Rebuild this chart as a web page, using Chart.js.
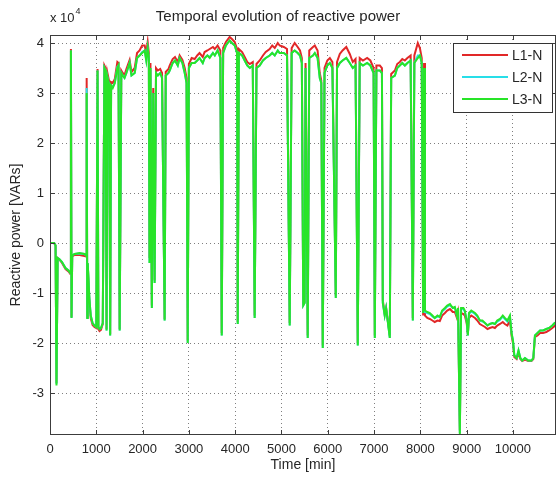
<!DOCTYPE html>
<html><head><meta charset="utf-8">
<script src="https://cdn.jsdelivr.net/npm/chart.js@4.4.1/dist/chart.umd.min.js"></script>
<style>html,body{margin:0;padding:0;background:#fff;overflow:hidden}</style>
</head><body>
<canvas id="c" width="558" height="478"></canvas>
<script>
// ---- data (reactive power in units of 1e4 VAR) ----
const timeMin = [
  0,90,120,140,165,200,260,335,400,440,452,465,480,530,640,746,780,792,805,815,
  850,880,920,960,1000,1027,1045,1070,1100,1140,1175,1200,1222,1245,1280,1300,1320,1355,1400,1455,
  1480,1505,1540,1570,1610,1650,1720,1760,1830,1880,1935,1990,2045,2080,2110,2135,2150,2170,2200,2230,
  2260,2290,2330,2380,2420,2476,2500,2560,2585,2650,2700,2760,2800,2860,2910,2950,2975,3000,3060,3125,
  3180,3230,3300,3340,3400,3450,3520,3560,3620,3680,3710,3740,3800,3880,3930,3990,4040,4055,4080,4150,
  4205,4260,4315,4380,4421,4460,4530,4600,4660,4745,4800,4855,4920,4960,5050,5120,5178,5220,5285,5350,
  5400,5440,5470,5500,5520,5567,5600,5680,5720,5780,5827,5860,5892,5930,5990,6045,6100,6173,6200,6260,
  6320,6400,6475,6540,6600,6648,6690,6760,6850,6920,6990,7016,7050,7125,7170,7189,7230,7260,7340,7370,
  7450,7500,7556,7610,7665,7720,7790,7837,7870,7945,7990,8030,8060,8080,8100,8150,8205,8260,8310,8370,
  8420,8470,8530,8580,8640,8700,8745,8790,8815,8853,8880,8930,8960,9000,9026,9050,9100,9180,9230,9285,
  9340,9395,9450,9500,9560,9610,9660,9720,9780,9825,9880,9935,9970,10000,10030,10080,10120,10160,10200,10260,
  10330,10400,10440,10475,10530,10585,10650,10720,10780,10850,10900,10930
];
const l1N = [
  0.00,0.00,-0.05,-2.80,-0.30,-0.33,-0.40,-0.52,-0.57,-0.62,3.88,-1.48,-0.27,-0.24,-0.24,-0.26,-0.27,3.30,-1.48,-0.42,
  -1.15,-1.50,-1.64,-1.68,-1.70,3.48,-1.72,-1.76,-1.74,-1.62,3.55,3.50,-1.72,3.38,3.22,-1.82,3.22,3.20,3.28,3.62,
  3.60,-1.72,3.45,3.40,3.36,3.48,3.66,3.42,3.50,3.80,3.85,3.95,3.95,3.80,4.02,3.80,-0.30,3.60,-1.25,3.10,
  -0.75,3.50,3.45,3.48,3.40,-1.52,3.42,3.48,3.55,3.68,3.72,3.62,3.75,3.66,3.50,3.30,-1.95,3.58,3.70,3.68,
  3.75,3.80,3.72,3.82,3.85,3.88,3.92,3.88,3.95,3.85,-1.80,3.90,4.02,4.12,4.08,4.02,3.88,-1.58,3.88,3.82,
  3.72,3.62,3.58,3.62,-1.45,3.58,3.65,3.75,3.82,3.88,3.95,3.90,4.00,3.95,3.92,3.88,-1.60,3.90,4.00,3.92,
  3.85,3.70,-1.20,-1.18,3.60,-1.85,3.85,3.92,3.95,3.85,3.40,3.25,-2.05,3.50,3.65,3.70,3.62,-1.05,3.62,3.78,
  3.85,3.92,3.78,3.62,3.68,-2.00,3.70,3.65,3.70,3.65,3.50,-1.85,3.55,3.55,3.50,-1.15,-1.42,-1.30,-1.85,3.38,
  3.45,3.58,3.62,3.68,3.65,3.70,3.75,-1.50,3.75,4.00,3.90,3.70,-1.45,3.60,-1.45,-1.50,-1.52,-1.55,-1.58,-1.55,
  -1.56,-1.45,-1.40,-1.35,-1.32,-1.38,-1.38,-1.50,-1.40,-3.75,-1.40,-1.42,-1.45,-1.60,-1.82,-1.50,-1.45,-1.50,-1.55,-1.62,
  -1.65,-1.68,-1.72,-1.70,-1.68,-1.70,-1.65,-1.62,-1.58,-1.62,-1.65,-1.55,-1.85,-2.00,-2.28,-2.32,-2.20,-2.32,-2.36,-2.33,
  -2.36,-2.36,-2.32,-1.88,-1.85,-1.80,-1.80,-1.78,-1.75,-1.70,-1.66,-1.68
];
const l2N = [
  0.00,0.00,-0.05,-2.82,-0.30,-0.32,-0.38,-0.50,-0.55,-0.60,3.85,-1.50,-0.25,-0.22,-0.21,-0.22,-0.25,3.10,-1.50,-0.40,
  -1.10,-1.45,-1.60,-1.65,-1.68,3.45,-1.68,-1.72,-1.70,-1.60,3.50,3.45,-1.75,3.30,3.15,-1.85,3.15,3.12,3.20,3.52,
  3.55,-1.75,3.40,3.35,3.30,3.40,3.60,3.35,3.40,3.70,3.75,3.82,3.85,3.65,3.90,3.70,-0.40,3.50,-1.30,3.00,
  -0.80,3.40,3.35,3.40,3.30,-1.55,3.35,3.40,3.45,3.60,3.65,3.55,3.70,3.60,3.40,3.20,-2.00,3.50,3.60,3.60,
  3.65,3.70,3.60,3.70,3.75,3.72,3.80,3.75,3.85,3.70,-1.85,3.80,3.95,4.05,4.00,3.95,3.80,-1.62,3.80,3.75,
  3.65,3.55,3.50,3.55,-1.50,3.50,3.55,3.65,3.70,3.75,3.80,3.75,3.85,3.80,3.80,3.75,-1.65,3.80,3.85,3.80,
  3.75,3.60,-1.25,-1.20,3.50,-1.90,3.70,3.75,3.80,3.70,3.30,3.20,-2.10,3.40,3.55,3.60,3.50,-1.10,3.50,3.60,
  3.65,3.70,3.60,3.50,3.55,-2.05,3.60,3.55,3.60,3.55,3.40,-1.90,3.45,3.45,3.40,-1.20,-1.45,-1.30,-1.90,3.30,
  3.35,3.50,3.55,3.60,3.55,3.60,3.65,-1.55,3.60,3.75,3.75,3.60,-1.40,3.50,-1.38,-1.40,-1.42,-1.47,-1.50,-1.47,
  -1.48,-1.37,-1.32,-1.27,-1.24,-1.30,-1.30,-1.45,-1.32,-3.80,-1.32,-1.32,-1.37,-1.55,-1.85,-1.42,-1.37,-1.42,-1.47,-1.55,
  -1.57,-1.60,-1.65,-1.62,-1.60,-1.62,-1.57,-1.54,-1.47,-1.52,-1.57,-1.47,-1.80,-1.95,-2.25,-2.30,-2.15,-2.30,-2.35,-2.30,
  -2.35,-2.35,-2.30,-1.85,-1.80,-1.75,-1.75,-1.72,-1.70,-1.65,-1.60,-1.62
];
const l3N = [
  0.00,0.00,-0.05,-2.85,-0.30,-0.32,-0.38,-0.50,-0.55,-0.60,3.85,-1.50,-0.25,-0.22,-0.20,-0.22,-0.25,3.00,-1.50,-0.40,
  -1.10,-1.45,-1.60,-1.65,-1.68,3.45,-1.68,-1.72,-1.70,-1.60,3.50,3.45,-1.75,3.30,3.15,-1.85,3.15,3.10,3.20,3.50,
  3.55,-1.75,3.40,3.35,3.30,3.40,3.60,3.35,3.40,3.70,3.75,3.80,3.85,3.65,3.90,3.70,-0.40,3.50,-1.30,3.00,
  -0.80,3.40,3.35,3.40,3.30,-1.55,3.35,3.40,3.45,3.60,3.65,3.55,3.70,3.60,3.40,3.20,-2.00,3.50,3.60,3.60,
  3.65,3.70,3.60,3.70,3.75,3.70,3.80,3.75,3.85,3.70,-1.85,3.80,3.95,4.05,4.00,3.95,3.80,-1.62,3.80,3.75,
  3.65,3.55,3.50,3.55,-1.50,3.50,3.55,3.65,3.70,3.75,3.80,3.75,3.85,3.80,3.80,3.75,-1.65,3.80,3.85,3.80,
  3.75,3.60,-1.25,-1.20,3.50,-1.90,3.70,3.75,3.80,3.70,3.30,3.20,-2.10,3.40,3.55,3.60,3.50,-1.10,3.50,3.60,
  3.65,3.70,3.60,3.50,3.55,-2.05,3.60,3.55,3.60,3.55,3.40,-1.90,3.45,3.45,3.40,-1.20,-1.45,-1.30,-1.90,3.30,
  3.35,3.50,3.55,3.60,3.55,3.60,3.65,-1.55,3.60,3.70,3.75,3.60,-1.40,3.50,-1.35,-1.38,-1.40,-1.45,-1.50,-1.45,
  -1.48,-1.35,-1.30,-1.25,-1.22,-1.30,-1.28,-1.45,-1.30,-3.84,-1.30,-1.30,-1.35,-1.55,-1.85,-1.40,-1.35,-1.40,-1.45,-1.55,
  -1.55,-1.60,-1.65,-1.62,-1.60,-1.62,-1.55,-1.52,-1.45,-1.50,-1.55,-1.45,-1.80,-1.95,-2.25,-2.30,-2.15,-2.30,-2.35,-2.30,
  -2.35,-2.35,-2.30,-1.85,-1.80,-1.75,-1.75,-1.72,-1.70,-1.65,-1.60,-1.62
];
const seriesNames = ['L1-N', 'L2-N', 'L3-N'];
const seriesColors = ['rgb(225,40,40)', 'rgb(40,222,232)', 'rgb(40,228,40)'];
const xTickValues = [0,1000,2000,3000,4000,5000,6000,7000,8000,9000,10000];
const yTickValues = [-3,-2,-1,0,1,2,3,4];
const titleText = 'Temporal evolution of reactive power';
const xLabel = 'Time [min]';
const yLabel = 'Reactive power [VARs]';
const yScaleBase = 'x 10';
const yScaleExp = '4';

const FONT = '"Liberation Sans", Arial, Helvetica, sans-serif';
const TXT = '#262626';

function toPoints(vals) { return timeMin.map((t, i) => ({ x: t, y: vals[i] })); }
const seriesVals = [l1N, l2N, l3N];

const framePlugin = {
  id: 'frame',
  afterDraw(chart) {
    const ctx = chart.ctx, a = chart.chartArea;
    const xs = chart.scales.x, ys = chart.scales.y;
    ctx.save();
    ctx.strokeStyle = '#3c3c3c';
    ctx.lineWidth = 1;
    ctx.setLineDash([]);
    // inward ticks
    ctx.beginPath();
    xTickValues.forEach(v => {
      const p = Math.round(xs.getPixelForValue(v)) + 0.5;
      ctx.moveTo(p, a.bottom); ctx.lineTo(p, a.bottom - 5);
      ctx.moveTo(p, a.top); ctx.lineTo(p, a.top + 5);
    });
    yTickValues.forEach(v => {
      const p = Math.round(ys.getPixelForValue(v)) + 0.5;
      ctx.moveTo(a.left, p); ctx.lineTo(a.left + 5, p);
      ctx.moveTo(a.right, p); ctx.lineTo(a.right - 5, p);
    });
    ctx.stroke();
    // box
    ctx.strokeRect(Math.round(a.left) + 0.5, Math.round(a.top) + 0.5,
                   Math.round(a.right - a.left) - 1, Math.round(a.bottom - a.top) - 1);
    // exponent label
    ctx.fillStyle = TXT;
    ctx.textBaseline = 'middle';
    ctx.textAlign = 'left';
    ctx.font = '13px ' + FONT;
    ctx.fillText(yScaleBase, a.left, 18);
    const w = ctx.measureText(yScaleBase).width;
    ctx.font = '9px ' + FONT;
    ctx.fillText(yScaleExp, a.left + w + 1, 12);
    // legend box
    const lx = 453, ly = 43, lw = 99, lh = 69;
    ctx.fillStyle = '#fff';
    ctx.fillRect(lx, ly, lw, lh);
    ctx.strokeStyle = '#333';
    ctx.strokeRect(lx + 0.5, ly + 0.5, lw, lh);
    ctx.font = '14px ' + FONT;
    chart.data.datasets.forEach((ds, i) => {
      const y = ly + 12 + i * 22;
      ctx.strokeStyle = ds.borderColor;
      ctx.lineWidth = 2;
      ctx.beginPath(); ctx.moveTo(462, y); ctx.lineTo(508, y); ctx.stroke();
      ctx.fillStyle = TXT;
      ctx.fillText(ds.label, 512, y + 1);
    });
    ctx.restore();
  }
};

new Chart(document.getElementById('c'), {
  type: 'line',
  data: {
    datasets: seriesNames.map((name, i) => ({
      label: name,
      data: toPoints(seriesVals[i]),
      borderColor: seriesColors[i],
      backgroundColor: seriesColors[i],
      borderWidth: 2,
      pointRadius: 0,
      tension: 0,
      fill: false,
      order: 3 - i
    }))
  },
  options: {
    responsive: false,
    animation: false,
    devicePixelRatio: 1,
    layout: { padding: { left: 0, right: 2, top: 0, bottom: 0 } },
    plugins: {
      legend: { display: false },
      tooltip: { enabled: false },
      title: {
        display: true, text: titleText, color: TXT,
        font: { family: FONT, size: 15, weight: 'normal' },
        padding: { top: 8, bottom: 9 }
      }
    },
    scales: {
      x: {
        type: 'linear', min: 0, max: 10930,
        afterBuildTicks: s => { s.ticks = xTickValues.map(v => ({ value: v })); },
        afterFit: s => { s.height = 43; },
        ticks: { color: TXT, font: { family: FONT, size: 13 }, padding: 7, maxRotation: 0, autoSkip: false,
                 callback: v => String(v) },
        grid: { color: 'rgba(0,0,0,0.5)', lineWidth: 1, drawTicks: false },
        border: { display: false, dash: [1, 3] },
        title: { display: true, text: xLabel, color: TXT, font: { family: FONT, size: 14 }, padding: { top: 0, bottom: 4 } }
      },
      y: {
        type: 'linear', min: -3.84, max: 4.16,
        afterBuildTicks: s => { s.ticks = yTickValues.map(v => ({ value: v })); },
        afterFit: s => { s.width = 50; },
        ticks: { color: TXT, font: { family: FONT, size: 13 }, padding: 6, callback: v => String(v) },
        grid: { color: 'rgba(0,0,0,0.5)', lineWidth: 1, drawTicks: false },
        border: { display: false, dash: [1, 3] },
        title: { display: true, text: yLabel, color: TXT, font: { family: FONT, size: 14 }, padding: { top: 8, bottom: 0 } }
      }
    }
  },
  plugins: [framePlugin]
});
</script>
</body></html>
